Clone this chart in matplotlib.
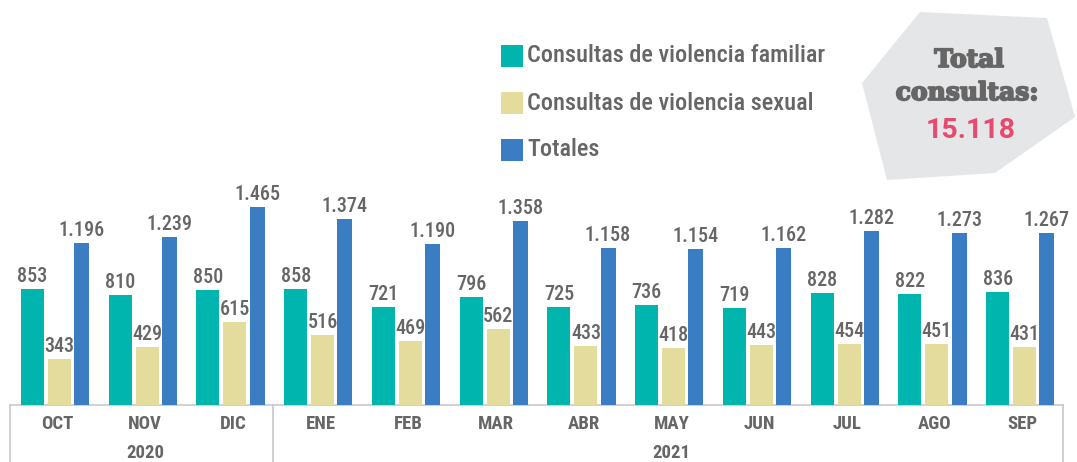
import matplotlib
matplotlib.use("Agg")
import matplotlib.pyplot as plt
import matplotlib.patheffects as pe
from matplotlib.patches import Polygon, Rectangle

months = ['OCT', 'NOV', 'DIC', 'ENE', 'FEB', 'MAR', 'ABR', 'MAY', 'JUN', 'JUL', 'AGO', 'SEP']
years = ['2020', '2021']
year_spans = [(0, 2), (3, 11)]
familiar = [853, 810, 850, 858, 721, 796, 725, 736, 719, 828, 822, 836]
sexual = [343, 429, 615, 516, 469, 562, 433, 418, 443, 454, 451, 431]
totales = [1196, 1239, 1465, 1374, 1190, 1358, 1158, 1154, 1162, 1282, 1273, 1267]
series_names = ['Consultas de violencia familiar', 'Consultas de violencia sexual', 'Totales']
total_consultas = '15.118'

c_fam = '#00B5AD'
c_sex = '#E3DC9C'
c_tot = '#3A7DC3'
colors = [c_fam, c_sex, c_tot]
gray = '#666666'
cond = 'Roboto Condensed'

W, H = 1077, 462
fig = plt.figure(figsize=(W / 100, H / 100), dpi=100)
ax = fig.add_axes([10 / W, 57 / H, 1053 / W, 405 / H])
ax.set_xlim(-0.5, len(months) - 0.5)
ax.set_ylim(0, 2990)
ax.axis('off')

def fmt(v):
    return f"{v:,}".replace(',', '.')

x = list(range(len(months)))
offsets = [-0.244, 0.064, 0.315]
widths = [0.262, 0.262, 0.171]
for vals, off, w, col in zip([familiar, sexual, totales], offsets, widths, colors):
    xs = [i + off for i in x]
    ax.bar(xs, vals, width=w, color=col, zorder=2)
    for xi, v in zip(xs, vals):
        ax.text(xi, v + 22, fmt(v), ha='center', va='bottom', fontsize=14.5,
                family=cond, fontweight=500, color=gray)

# category axis box
tr = ax.get_xaxis_transform()
ax.plot([-0.5, len(months) - 0.5], [0, 0], transform=tr, color='#C8C8C8', lw=1.2, clip_on=False, zorder=1)
for xv in [-0.5, 2.5, len(months) - 0.5]:
    ax.plot([xv, xv], [0, -0.16], transform=tr, color='#C8C8C8', lw=1.2, clip_on=False)
for i, m in enumerate(months):
    ax.text(i + 0.04, -0.048, m, transform=tr, ha='center', va='center', fontsize=13.5,
            family=cond, fontweight='bold', color=gray)
for yname, (a, b) in zip(years, year_spans):
    ax.text((a + b) / 2 + 0.04, -0.118, yname, transform=tr, ha='center', va='center', fontsize=13.5,
            family=cond, fontweight='bold', color=gray)

# legend
for k, (name, col) in enumerate(zip(series_names, colors)):
    yc = 56 + 47 * k
    fig.patches.append(Rectangle((501 / W, 1 - (yc + 11) / H), 22 / W, 22 / H,
                                 transform=fig.transFigure, facecolor=col, edgecolor='none'))
    fig.text(527 / W, 1 - yc / H, name, ha='left', va='center', fontsize=17.5,
             family=cond, fontweight=500, color=gray)

# total box
pts = [(920, 12), (1047, 18), (1075, 117), (995, 173), (887, 180), (862, 83)]
fig.patches.append(Polygon([(px / W, 1 - py / H) for px, py in pts], closed=True,
                           transform=fig.transFigure, facecolor='#E5E6E8', edgecolor='none'))
thick = [pe.withStroke(linewidth=1.3, foreground=gray)]
fig.text(969 / W, 1 - 60 / H, 'Total', ha='center', va='center', fontsize=18,
         family='DejaVu Serif', fontweight='bold', color=gray, path_effects=thick)
fig.text(967 / W, 1 - 93 / H, 'consultas:', ha='center', va='center', fontsize=18,
         family='DejaVu Serif', fontweight='bold', color=gray, path_effects=thick)
fig.text(971 / W, 1 - 130 / H, total_consultas, ha='center', va='center', fontsize=20.5,
         family='Roboto', fontweight='bold', color='#E8496F')

fig.savefig('out.png', dpi=100)
